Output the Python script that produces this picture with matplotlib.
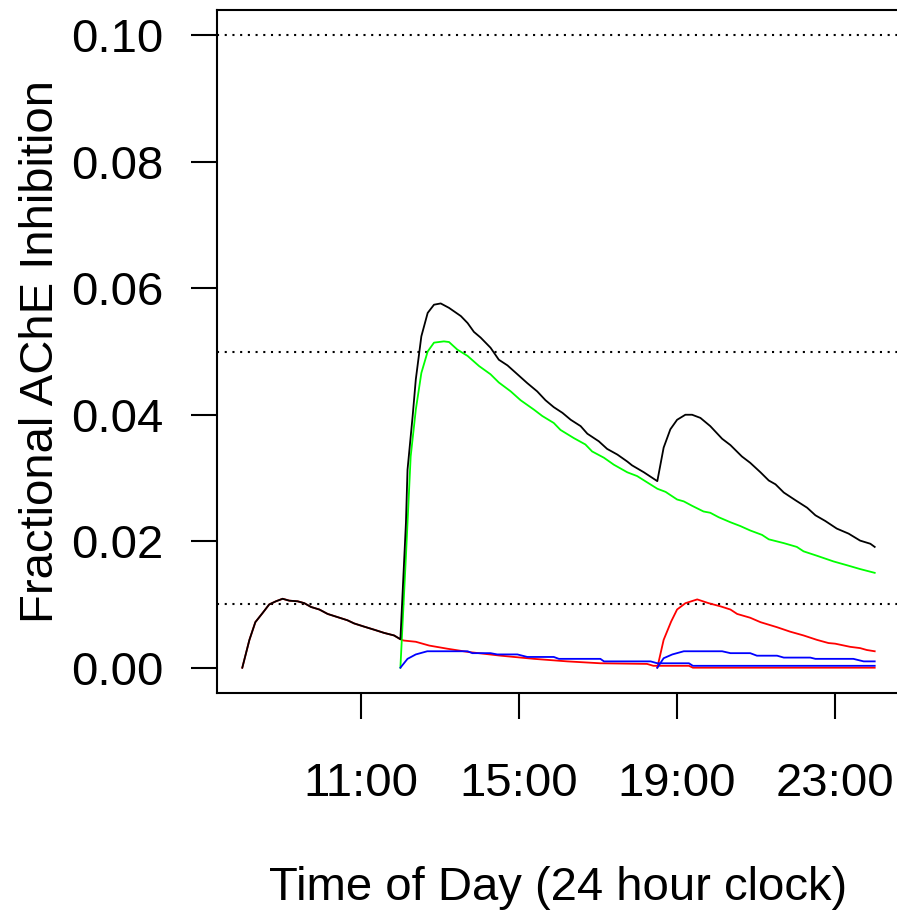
import matplotlib
matplotlib.use("Agg")
import matplotlib.pyplot as plt

plt.rcParams['font.family'] = ['Liberation Sans', 'DejaVu Sans']

# hours of the day (decimal) and fractional AChE inhibition
# first dose (08:00), red
red1_t = [8.0, 8.18, 8.33, 8.52, 8.68, 8.85, 9.02, 9.19, 9.4, 9.57, 9.74, 9.95, 10.16, 10.41,
          10.66, 10.83, 11.08, 11.34, 11.59, 11.84, 12.0, 12.08, 12.39, 12.73, 13.19, 13.7,
          14.54, 15.38, 16.22, 17.06, 18.24, 18.4, 19.3, 19.4, 24.0]
red1_v = [0.0, 0.0044, 0.0072, 0.0087, 0.0100, 0.0105, 0.0109, 0.0106, 0.0105, 0.0102, 0.0096,
          0.0092, 0.0085, 0.0080, 0.0075, 0.0070, 0.0065, 0.0060, 0.0055, 0.0051, 0.0045,
          0.0043, 0.0041, 0.0035, 0.0030, 0.0025, 0.0019, 0.0014, 0.0010, 0.0007, 0.0006,
          0.0003, 0.0003, 0.0, 0.0]

# third dose (18:30), red
red2_t = [18.5, 18.66, 18.85, 19.0, 19.21, 19.51, 19.8, 20.1, 20.35, 20.52, 20.85, 21.11,
          21.53, 21.86, 22.2, 22.54, 22.83, 23.0, 23.38, 23.63, 23.8, 24.0]
red2_v = [0.0, 0.0044, 0.0073, 0.0092, 0.0102, 0.0108, 0.0102, 0.0097, 0.0092, 0.0085,
          0.0079, 0.0072, 0.0064, 0.0057, 0.0051, 0.0044, 0.0039, 0.0038, 0.0033, 0.0031,
          0.0028, 0.0026]

# second dose (12:00), green
green_t = [12.0, 12.14, 12.26, 12.39, 12.53, 12.69, 12.85, 13.1, 13.23, 13.44, 13.7, 13.99,
           14.28, 14.49, 14.79, 15.04, 15.38, 15.59, 15.88, 16.05, 16.39, 16.68, 16.85, 17.15,
           17.4, 17.74, 17.99, 18.5, 18.71, 19.0, 19.17, 19.38, 19.67, 19.84, 20.05, 20.35,
           20.6, 20.85, 21.15, 21.32, 21.7, 22.03, 22.2, 22.54, 22.96, 23.3, 23.63, 24.0]
green_v = [0.0, 0.0176, 0.0334, 0.0408, 0.0466, 0.0500, 0.0514, 0.0516, 0.0515, 0.0503,
           0.0493, 0.0477, 0.0464, 0.0451, 0.0437, 0.0423, 0.0408, 0.0398, 0.0387, 0.0376,
           0.0363, 0.0353, 0.0342, 0.0332, 0.0321, 0.0309, 0.0303, 0.0283, 0.0278, 0.0266,
           0.0263, 0.0256, 0.0247, 0.0245, 0.0238, 0.0230, 0.0224, 0.0217, 0.0210, 0.0203,
           0.0197, 0.0191, 0.0184, 0.0177, 0.0168, 0.0162, 0.0156, 0.0150]

# second dose (12:00), blue
blue1_t = [12.0, 12.18, 12.39, 12.68, 13.7, 13.82, 14.28, 14.45, 14.96, 15.21, 15.88, 16.01,
           17.06, 17.15, 18.33, 18.5, 19.3, 19.4, 24.0]
blue1_v = [0.0, 0.0014, 0.0021, 0.0026, 0.0026, 0.0023, 0.0023, 0.0021, 0.0021, 0.0017,
           0.0017, 0.0014, 0.0014, 0.0010, 0.0010, 0.0007, 0.0007, 0.0003, 0.0003]

# third dose (18:30), blue
blue2_t = [18.5, 18.66, 18.88, 19.17, 20.14, 20.35, 20.85, 21.02, 21.53, 21.7, 22.37, 22.5,
           23.46, 23.72, 24.0]
blue2_v = [0.0, 0.0015, 0.0021, 0.0026, 0.0026, 0.0023, 0.0023, 0.0019, 0.0019, 0.0016,
           0.0016, 0.0014, 0.0014, 0.0010, 0.0010]

# total, black
total_t = [8.0, 8.18, 8.33, 8.52, 8.68, 8.85, 9.02, 9.19, 9.4, 9.57, 9.74, 9.95, 10.16, 10.41,
           10.66, 10.83, 11.08, 11.34, 11.59, 11.84, 12.0, 12.14, 12.18, 12.31, 12.39, 12.53,
           12.69, 12.85, 13.02, 13.23, 13.53, 13.7, 13.86, 14.03, 14.28, 14.49, 14.71, 14.96,
           15.21, 15.46, 15.67, 15.88, 16.1, 16.31, 16.56, 16.73, 17.02, 17.23, 17.49, 17.74,
           17.86, 18.16, 18.5, 18.66, 18.83, 19.0, 19.21, 19.38, 19.59, 19.84, 20.14, 20.35,
           20.64, 20.85, 21.11, 21.32, 21.49, 21.7, 21.99, 22.29, 22.5, 22.75, 23.04, 23.34,
           23.63, 23.89, 24.0]
total_v = [0.0, 0.0044, 0.0072, 0.0087, 0.0100, 0.0105, 0.0109, 0.0106, 0.0105, 0.0102,
           0.0096, 0.0092, 0.0085, 0.0080, 0.0075, 0.0070, 0.0065, 0.0060, 0.0055, 0.0051,
           0.0045, 0.0229, 0.0313, 0.0398, 0.0456, 0.0524, 0.0561, 0.0574, 0.0576, 0.0569,
           0.0556, 0.0545, 0.0531, 0.0522, 0.0506, 0.0487, 0.0478, 0.0464, 0.0450, 0.0437,
           0.0423, 0.0412, 0.0403, 0.0392, 0.0382, 0.0370, 0.0358, 0.0346, 0.0337, 0.0326,
           0.0320, 0.0309, 0.0295, 0.0348, 0.0377, 0.0392, 0.0400, 0.0400, 0.0395, 0.0382,
           0.0362, 0.0352, 0.0334, 0.0324, 0.0309, 0.0296, 0.0290, 0.0277, 0.0265, 0.0253,
           0.0241, 0.0232, 0.0220, 0.0212, 0.0201, 0.0196, 0.0191]

ref_levels = [0.10, 0.05, 0.01]
x_ticks = [11, 15, 19, 23]
x_labels = ["11:00", "15:00", "19:00", "23:00"]
y_ticks = [0.00, 0.02, 0.04, 0.06, 0.08, 0.10]

fs = 34
lw = 1.3

fig = plt.figure(figsize=(8.97, 9.16), dpi=100)
ax = fig.add_axes([217 / 897, 1 - 693 / 916, (900 - 217) / 897, 683 / 916])

for lev in ref_levels:
    ax.axhline(lev, color="black", lw=1.5, linestyle=(0, (1, 2.7)))

ax.plot(red1_t, red1_v, color="#FF0000", lw=lw)
ax.plot(red2_t, red2_v, color="#FF0000", lw=lw)
ax.plot(green_t, green_v, color="#00FF00", lw=lw)
ax.plot(blue1_t, blue1_v, color="#0000FF", lw=lw)
ax.plot(blue2_t, blue2_v, color="#0000FF", lw=lw)
ax.plot(total_t, total_v, color="black", lw=lw)

ax.set_xlim(7.36, 24.64)
ax.set_ylim(-0.004, 0.104)

ax.set_xticks(x_ticks)
ax.set_xticklabels(x_labels)
ax.set_yticks(y_ticks)
ax.set_yticklabels(["%.2f" % v for v in y_ticks])

for sp in ax.spines.values():
    sp.set_linewidth(1.5)
ax.tick_params(axis="both", length=18.7, width=1.5, labelsize=fs, color="black")
ax.tick_params(axis="x", pad=31)
ax.tick_params(axis="y", pad=20)

ax.set_xlabel("Time of Day (24 hour clock)", fontsize=fs)
ax.xaxis.set_label_coords(0.5, -0.253)
ax.set_ylabel("Fractional AChE Inhibition", fontsize=fs)
ax.yaxis.set_label_coords(-0.226, 0.5)

fig.savefig("out.png", dpi=100)
